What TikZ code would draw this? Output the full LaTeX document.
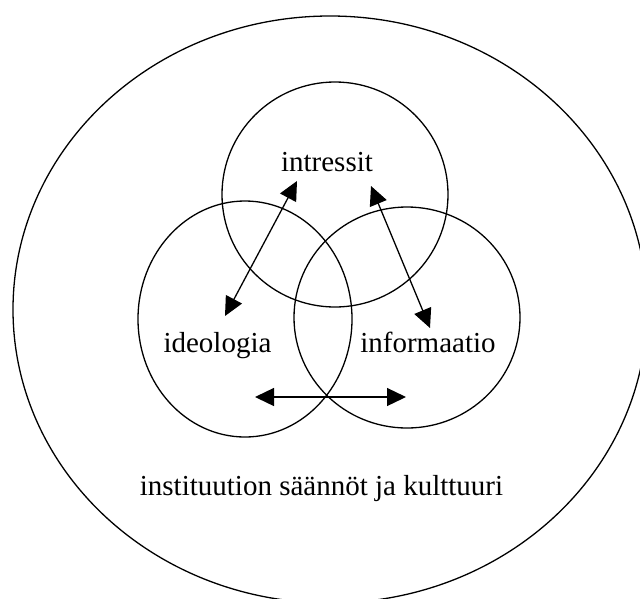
\documentclass[tikz,border=0pt]{standalone}
\usepackage{fontspec}
\setmainfont{Liberation Serif}
\usetikzlibrary{shapes.geometric,arrows.meta}

\begin{document}
\begin{tikzpicture}[x=1pt,y=-1pt,
  ring/.style={draw=black, line width=1.3pt, ellipse, inner sep=0pt},
  label/.style={anchor=base, inner sep=0pt, font=\fontsize{29}{34}\selectfont},
  twoway/.style={line width=1.3pt, {Triangle[length=19pt,width=18pt]}-{Triangle[length=19pt,width=18pt]}}]

  \useasboundingbox (0,0) rectangle (640,598);
  \fill[white] (0,0) rectangle (640,598);

  % outer field and the three overlapping circles
  \node[ring, minimum width=634pt, minimum height=587pt] (field) at (330,309.5) {};
  \node[ring, minimum width=226pt, minimum height=225pt] (ints) at (335,194.5) {};
  \node[ring, minimum width=214pt, minimum height=236pt] (ideo) at (245,319) {};
  \node[ring, minimum width=226pt, minimum height=221pt] (info) at (407,317.5) {};

  % labels
  \node[label] (tints) at (327,171) {intressit};
  \node[label] (tideo) at (217.5,352.5) {ideologia};
  \node[label] (tinfo) at (428,352.5) {informaatio};
  \node[label] (tfield) at (321.5,495) {instituution säännöt ja kulttuuri};

  % arrow ends
  \coordinate (a1) at (297,181);
  \coordinate (a2) at (225,316);
  \coordinate (b1) at (371,186);
  \coordinate (b2) at (430,328);
  \coordinate (c1) at (255,397);
  \coordinate (c2) at (406,397);

  \draw[twoway] (a1) -- (a2);
  \draw[twoway] (b1) -- (b2);
  \draw[twoway] (c1) -- (c2);
\end{tikzpicture}
\end{document}
